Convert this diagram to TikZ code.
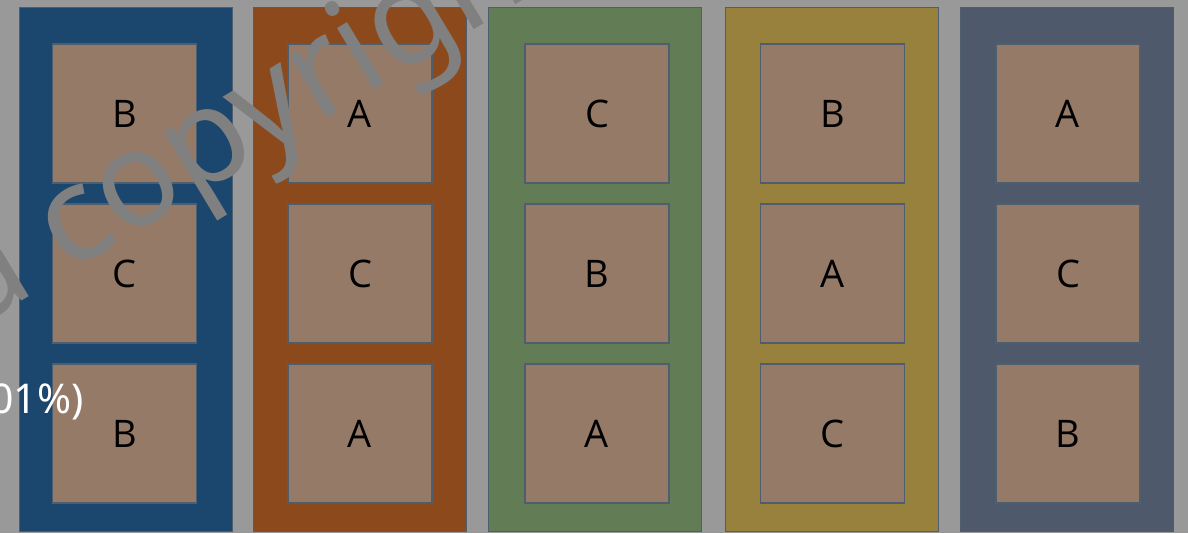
\documentclass[tikz,border=0pt]{standalone}
\usepackage{fontspec}
\setmainfont{Open Sans}
\newfontfamily\wmfont{Noto Sans}
\definecolor{bg}{HTML}{999999}
\definecolor{cblue}{HTML}{1B466E}
\definecolor{corange}{HTML}{8C4A1C}
\definecolor{cgreen}{HTML}{627C55}
\definecolor{cgold}{HTML}{97813C}
\definecolor{cslate}{HTML}{4E5A6B}
\definecolor{boxfill}{HTML}{957A68}
\definecolor{boxline}{HTML}{4D5F6F}
\definecolor{wm}{HTML}{808080}
\tikzset{
  colbox/.style={rectangle, draw=boxline, line width=1.2pt, minimum width=213pt, minimum height=524pt, anchor=north west, inner sep=0pt},
  cell/.style={rectangle, draw=boxline, line width=1.5pt, fill=boxfill, minimum width=144pt, minimum height=139pt, inner sep=0pt, text=black, font=\fontsize{38}{40}\selectfont},
}
\begin{document}
\begin{tikzpicture}[x=1pt,y=-1pt]
\useasboundingbox (0,0) rectangle (1188,533);
\clip (0,0) rectangle (1188,533);
\fill[bg] (0,0) rectangle (1188,533);
% columns
\node[colbox, fill=cblue] (k1) at (18.5,6.5) {};
\node[colbox, fill=corange] (k2) at (252.5,6.5) {};
\node[colbox, fill=cgreen] (k3) at (488,6.5) {};
\node[colbox, fill=cgold] (k4) at (725,6.5) {};
\node[colbox, fill=cslate] (k5) at (959.5,6.5) {};
% cells
\node[cell] (b11) at (124.5,113.5) {B};
\node[cell] (b12) at (124.5,273.5) {C};
\node[cell] (b13) at (124.5,433.5) {B};
\node[cell] (b21) at (360,113.5) {A};
\node[cell] (b22) at (360,273.5) {C};
\node[cell] (b23) at (360,433.5) {A};
\node[cell] (b31) at (597,113.5) {C};
\node[cell] (b32) at (597,273.5) {B};
\node[cell] (b33) at (597,433.5) {A};
\node[cell] (b41) at (832.5,113.5) {B};
\node[cell] (b42) at (832.5,273.5) {A};
\node[cell] (b43) at (832.5,433.5) {C};
\node[cell] (b51) at (1068,113.5) {A};
\node[cell] (b52) at (1068,273.5) {C};
\node[cell] (b53) at (1068,433.5) {B};
% overlay texts
\node[anchor=base west, inner sep=0pt, text=white, font=\wmfont\fontsize{41}{43}\selectfont] (pct) at (-10,413) {01\%)};
\node[anchor=base west, inner sep=0pt, text=wm, rotate=31, font=\wmfont\fontsize{133}{138}\selectfont] (wmk) at (-26,330) {a copyright};
\end{tikzpicture}
\end{document}
